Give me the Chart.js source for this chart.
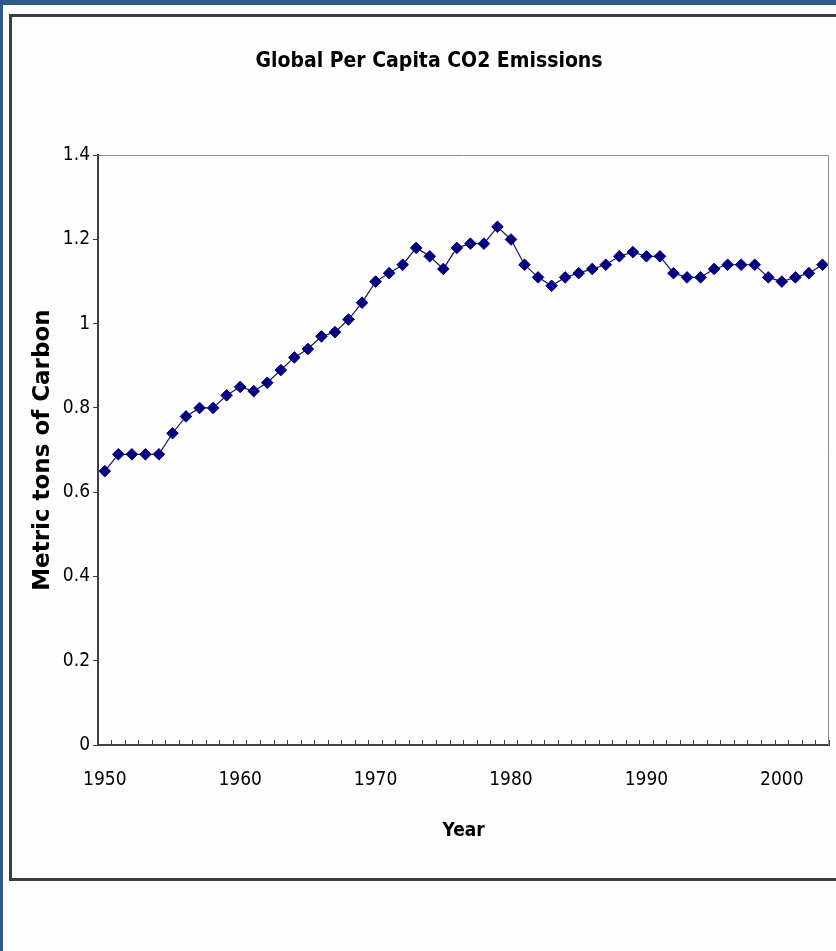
<!DOCTYPE html>
<html><head><meta charset="utf-8">
<script src="https://cdn.jsdelivr.net/npm/chart.js@4.4.1/dist/chart.umd.min.js"></script>
<style>
html,body{margin:0;padding:0;width:836px;height:951px;overflow:hidden;background:#2c5a8c;}
#page{position:absolute;left:3px;top:5px;width:833px;height:946px;background:#fefefe;}
#frame{position:absolute;left:9px;top:14px;width:900px;height:867px;box-sizing:border-box;border:3px solid #3c3c3c;}
#wrap{position:absolute;left:0;top:0;width:836px;height:951px;}
</style></head><body>
<div id="page"></div><div id="frame"></div>
<div id="wrap"><canvas id="c" width="836" height="951"></canvas></div>
<script>
const chartTitle = 'Global Per Capita CO2 Emissions';
const xTitle = 'Year';
const yTitle = 'Metric tons of Carbon';
const years = ['1950','1951','1952','1953','1954','1955','1956','1957','1958','1959',
  '1960','1961','1962','1963','1964','1965','1966','1967','1968','1969',
  '1970','1971','1972','1973','1974','1975','1976','1977','1978','1979',
  '1980','1981','1982','1983','1984','1985','1986','1987','1988','1989',
  '1990','1991','1992','1993','1994','1995','1996','1997','1998','1999',
  '2000','2001','2002','2003'];
const emissions = [0.65,0.69,0.69,0.69,0.69,0.74,0.78,0.80,0.80,0.83,
  0.85,0.84,0.86,0.89,0.92,0.94,0.97,0.98,1.01,1.05,
  1.10,1.12,1.14,1.18,1.16,1.13,1.18,1.19,1.19,1.23,
  1.20,1.14,1.11,1.09,1.11,1.12,1.13,1.14,1.16,1.17,
  1.16,1.16,1.12,1.11,1.11,1.13,1.14,1.14,1.14,1.11,
  1.10,1.11,1.12,1.14];
const labeledYears = ['1950','1960','1970','1980','1990','2000'];
const yMin = 0, yMax = 1.4, yStep = 0.2;

const NARROW = '"DejaVu Sans Condensed", "Liberation Sans Narrow", "Liberation Sans", sans-serif';

const plotBorder = {
  id: 'plotBorder',
  afterDraw(chart) {
    const a = chart.chartArea, ctx = chart.ctx;
    ctx.save();
    ctx.strokeStyle = '#8c8c8c';
    ctx.lineWidth = 1;
    ctx.beginPath();
    ctx.moveTo(Math.round(a.left) + 0.5, Math.round(a.top) + 0.5);
    ctx.lineTo(Math.round(a.right) - 0.5, Math.round(a.top) + 0.5);
    ctx.lineTo(Math.round(a.right) - 0.5, Math.round(a.bottom));
    ctx.stroke();
    ctx.restore();
  }
};

new Chart(document.getElementById('c'), {
  type: 'line',
  data: {
    labels: years,
    datasets: [{
      data: emissions,
      borderColor: '#1c1c50',
      borderWidth: 1.2,
      tension: 0,
      pointStyle: 'rectRot',
      pointRadius: 5.8,
      pointBackgroundColor: '#000080',
      pointBorderColor: '#000080',
      pointBorderWidth: 1
    }]
  },
  options: {
    responsive: false,
    animation: false,
    devicePixelRatio: 1,
    layout: { padding: { left: 26, right: 4, top: 0, bottom: 106 } },
    plugins: {
      legend: { display: false },
      tooltip: { enabled: false },
      title: {
        display: true,
        text: chartTitle,
        color: '#000',
        font: { family: NARROW, size: 21, weight: 'bold' },
        padding: { top: 49, bottom: 81 }
      }
    },
    scales: {
      x: {
        type: 'category',
        offset: true,
        afterFit(scale) { scale.height = 100; },
        grid: { offset: true, drawOnChartArea: false, drawTicks: true, tickLength: -5, color: '#404040', lineWidth: 1 },
        border: { display: true, color: '#404040', width: 2 },
        ticks: {
          autoSkip: false, maxRotation: 0, minRotation: 0,
          padding: 0,
          color: '#000',
          font: { family: NARROW, size: 19, lineHeight: 4.2 },
          callback(value, index) {
            const lab = this.getLabelForValue(value);
            return labeledYears.includes(lab) ? lab : '';
          }
        },
        title: {
          display: true, text: xTitle, color: '#000',
          font: { family: NARROW, size: 19, weight: 'bold' },
          padding: { top: 0, bottom: 3 }
        }
      },
      y: {
        min: yMin, max: yMax,
        afterFit(scale) { scale.width = 72; },
        grid: { drawOnChartArea: false, drawTicks: true, tickLength: 5, color: '#404040', lineWidth: 1 },
        border: { display: true, color: '#404040', width: 2 },
        ticks: {
          stepSize: yStep, padding: 3, color: '#000',
          font: { family: NARROW, size: 19 },
          callback(value) { return String(Number(value.toFixed(1))); }
        },
        title: {
          display: true, text: yTitle, color: '#000',
          font: { family: '"DejaVu Sans", Verdana, sans-serif', size: 23, weight: 'bold' },
          padding: { top: 3, bottom: 0 }
        }
      }
    }
  },
  plugins: [plotBorder]
});
</script>
</body></html>
